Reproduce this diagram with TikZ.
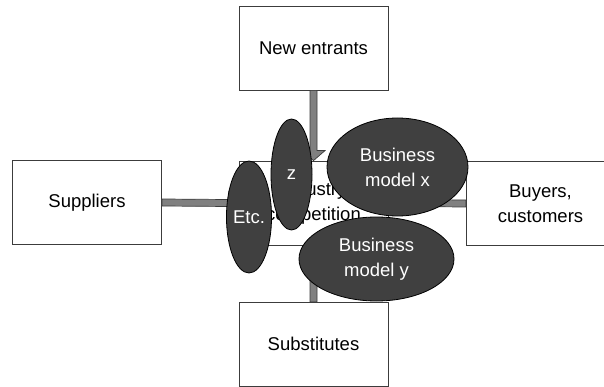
\documentclass[tikz,border=0pt]{standalone}
\usepackage{fontspec}
\setmainfont{Liberation Sans}
\usetikzlibrary{shapes.geometric,calc}
\definecolor{ellfill}{RGB}{64,64,64}
\definecolor{barfill}{RGB}{128,128,128}
\definecolor{edge}{RGB}{60,60,60}
\tikzset{
  force/.style={draw=edge, line width=0.8pt, fill=white, minimum width=149pt,
    minimum height=84pt, inner sep=0pt, align=center,
    font=\fontsize{18.5pt}{24.5pt}\selectfont},
  model/.style={ellipse, draw=black, line width=0.8pt, fill=ellfill, inner sep=0pt,
    text=white, align=center, font=\fontsize{18.5pt}{25pt}\selectfont},
  bar/.style={draw=edge, line width=0.7pt, fill=barfill},
}
\begin{document}
\begin{tikzpicture}[x=1pt,y=-1pt]
\useasboundingbox (0,0) rectangle (604,387);
% the five forces
\node[force] (ne)  at (313.5,48)  {New entrants};
\node[force] (sup) at (87,202.5)  {Suppliers};
\node[force] (ind) at (313.5,203) {Industry\\competition};
\node[force] (buy) at (540.5,203.5) {Buyers,\\customers};
\node[force] (sub) at (313.5,344) {Substitutes};
% block arrows pointing at the industry
\draw[bar] ($(ne.south)+(-3.5,0)$) -- ($(ind.north)+(-3.5,-10)$) -- ($(ind.north)+(-11.5,-10)$)
  -- (ind.north) -- ($(ind.north)+(11.5,-10)$) -- ($(ind.north)+(3.5,-10)$)
  -- ($(ne.south)+(3.5,0)$) -- cycle;
\draw[bar] ($(sup.east)+(0,-3.5)$) -- ($(ind.west)+(-10,-3.5)$) -- ($(ind.west)+(-10,-11.5)$)
  -- (ind.west) -- ($(ind.west)+(-10,11.5)$) -- ($(ind.west)+(-10,3.5)$)
  -- ($(sup.east)+(0,3.5)$) -- cycle;
\draw[bar] ($(buy.west)+(0,-3.5)$) -- ($(ind.east)+(10,-3.5)$) -- ($(ind.east)+(10,-11.5)$)
  -- (ind.east) -- ($(ind.east)+(10,11.5)$) -- ($(ind.east)+(10,3.5)$)
  -- ($(buy.west)+(0,3.5)$) -- cycle;
\draw[bar] ($(sub.north)+(-3.5,0)$) -- ($(ind.south)+(-3.5,10)$) -- ($(ind.south)+(-11.5,10)$)
  -- (ind.south) -- ($(ind.south)+(11.5,10)$) -- ($(ind.south)+(3.5,10)$)
  -- ($(sub.north)+(3.5,0)$) -- cycle;
% business models
\node[model, minimum width=41pt, minimum height=111pt] (z) at (291.5,174.5) {z};
\node[model, minimum width=42pt, minimum height=112pt] (etc) at (249,217) {Etc.};
\node[model, minimum width=141pt, minimum height=98pt] (bmx) at (397.5,167) {Business\\model x};
\node[model, minimum width=155pt, minimum height=84pt] (bmy) at (376.5,259) {Business\\model y};
\end{tikzpicture}
\end{document}
